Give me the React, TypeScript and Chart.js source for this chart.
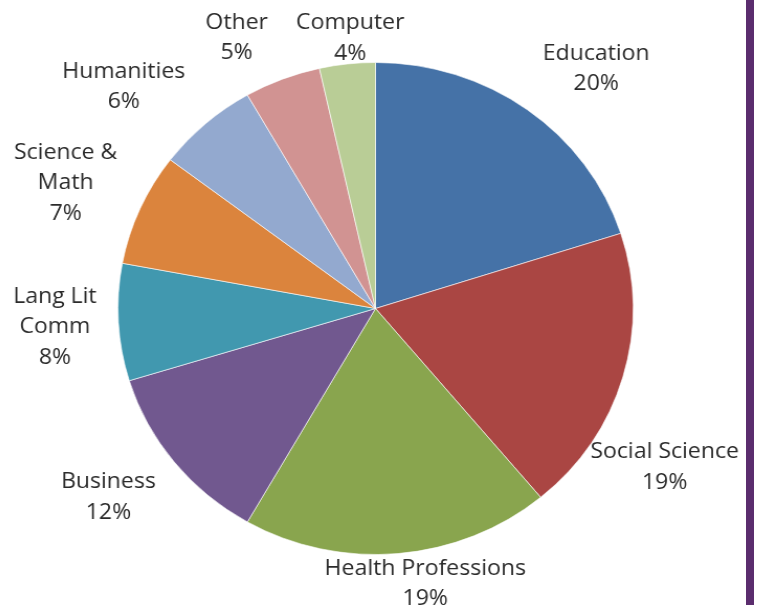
import { useEffect, useRef } from "react";
import { Chart, ArcElement, PieController } from "chart.js";

Chart.register(ArcElement, PieController);

const categories = [
  "Education",
  "Social Science",
  "Health Professions",
  "Business",
  "Lang Lit Comm",
  "Science & Math",
  "Humanities",
  "Other",
  "Computer",
];
const labelLines = [
  ["Education"],
  ["Social Science"],
  ["Health Professions"],
  ["Business"],
  ["Lang Lit", "Comm"],
  ["Science &", "Math"],
  ["Humanities"],
  ["Other"],
  ["Computer"],
];
const shares = [20.1, 18.9, 19.4, 12.0, 7.7, 7.4, 6.4, 4.8, 3.5];
const pctLabels = ["20%", "19%", "19%", "12%", "8%", "7%", "6%", "5%", "4%"];
const colors = [
  "#4572A7",
  "#AA4643",
  "#89A54E",
  "#71588F",
  "#4198AF",
  "#DB843D",
  "#93A9CF",
  "#D19392",
  "#B9CD96",
];
// label placement: angle (deg clockwise from 12 o'clock) and distance (x radius)
const labelAngles = [41.3, 119.9, 170.2, 233.5, 266.5, 293, 312.7, 333.9, 354.9];
const labelDist = [1.298, 1.295, 1.135, 1.29, 1.247, 1.307, 1.33, 1.225, 1.104];

const STRETCH = 1.047;

const labelPlugin = {
  id: "outsideLabels",
  afterDatasetsDraw(chart: any) {
    const meta = chart.getDatasetMeta(0);
    const arc = meta.data[0];
    if (!arc) return;
    const { x, y, outerRadius } = arc.getProps(["x", "y", "outerRadius"], true);
    const ctx = chart.ctx;
    ctx.save();
    ctx.font = '22px "Open Sans"';
    ctx.fillStyle = "#2b2b2b";
    ctx.textAlign = "center";
    ctx.textBaseline = "middle";
    const lh = 30.5;
    categories.forEach((_, i) => {
      const lines = [...labelLines[i], pctLabels[i]];
      const a = (labelAngles[i] * Math.PI) / 180;
      const r = outerRadius * labelDist[i];
      const cx = x + r * Math.sin(a);
      const cy = y - r * Math.cos(a);
      const top = cy - ((lines.length - 1) * lh) / 2;
      lines.forEach((t, k) => ctx.fillText(t, cx, top + k * lh));
    });
    ctx.restore();
  },
};

export default function App() {
  const ref = useRef<HTMLCanvasElement>(null);
  useEffect(() => {
    if (!ref.current) return;
    const chart = new Chart(ref.current, {
      type: "pie",
      data: {
        labels: categories,
        datasets: [
          {
            data: shares,
            backgroundColor: colors,
            borderColor: "rgba(255,255,255,0.6)",
            borderWidth: 1,
          },
        ],
      },
      options: {
        animation: false,
        responsive: true,
        maintainAspectRatio: false,
        layout: { padding: { left: 129, right: 136, top: 62, bottom: 50 } },
        plugins: { legend: { display: false }, tooltip: { enabled: false } },
      },
      plugins: [labelPlugin],
    });
    return () => chart.destroy();
  }, []);
  return (
    <div style={{ position: "absolute", left: 0, top: 0, width: 758, height: 605, background: "#fff", overflow: "hidden" }}>
      <div
        style={{
          position: "absolute",
          left: 0,
          top: 0,
          width: 758,
          height: 605,
          transform: `scaleX(${STRETCH})`,
          transformOrigin: "375.5px 0px",
        }}
      >
        <canvas ref={ref} />
      </div>
      <div
        style={{
          position: "absolute",
          left: 746,
          top: 0,
          width: 8,
          height: 605,
          background: "#5B2D6E",
        }}
      />
    </div>
  );
}
